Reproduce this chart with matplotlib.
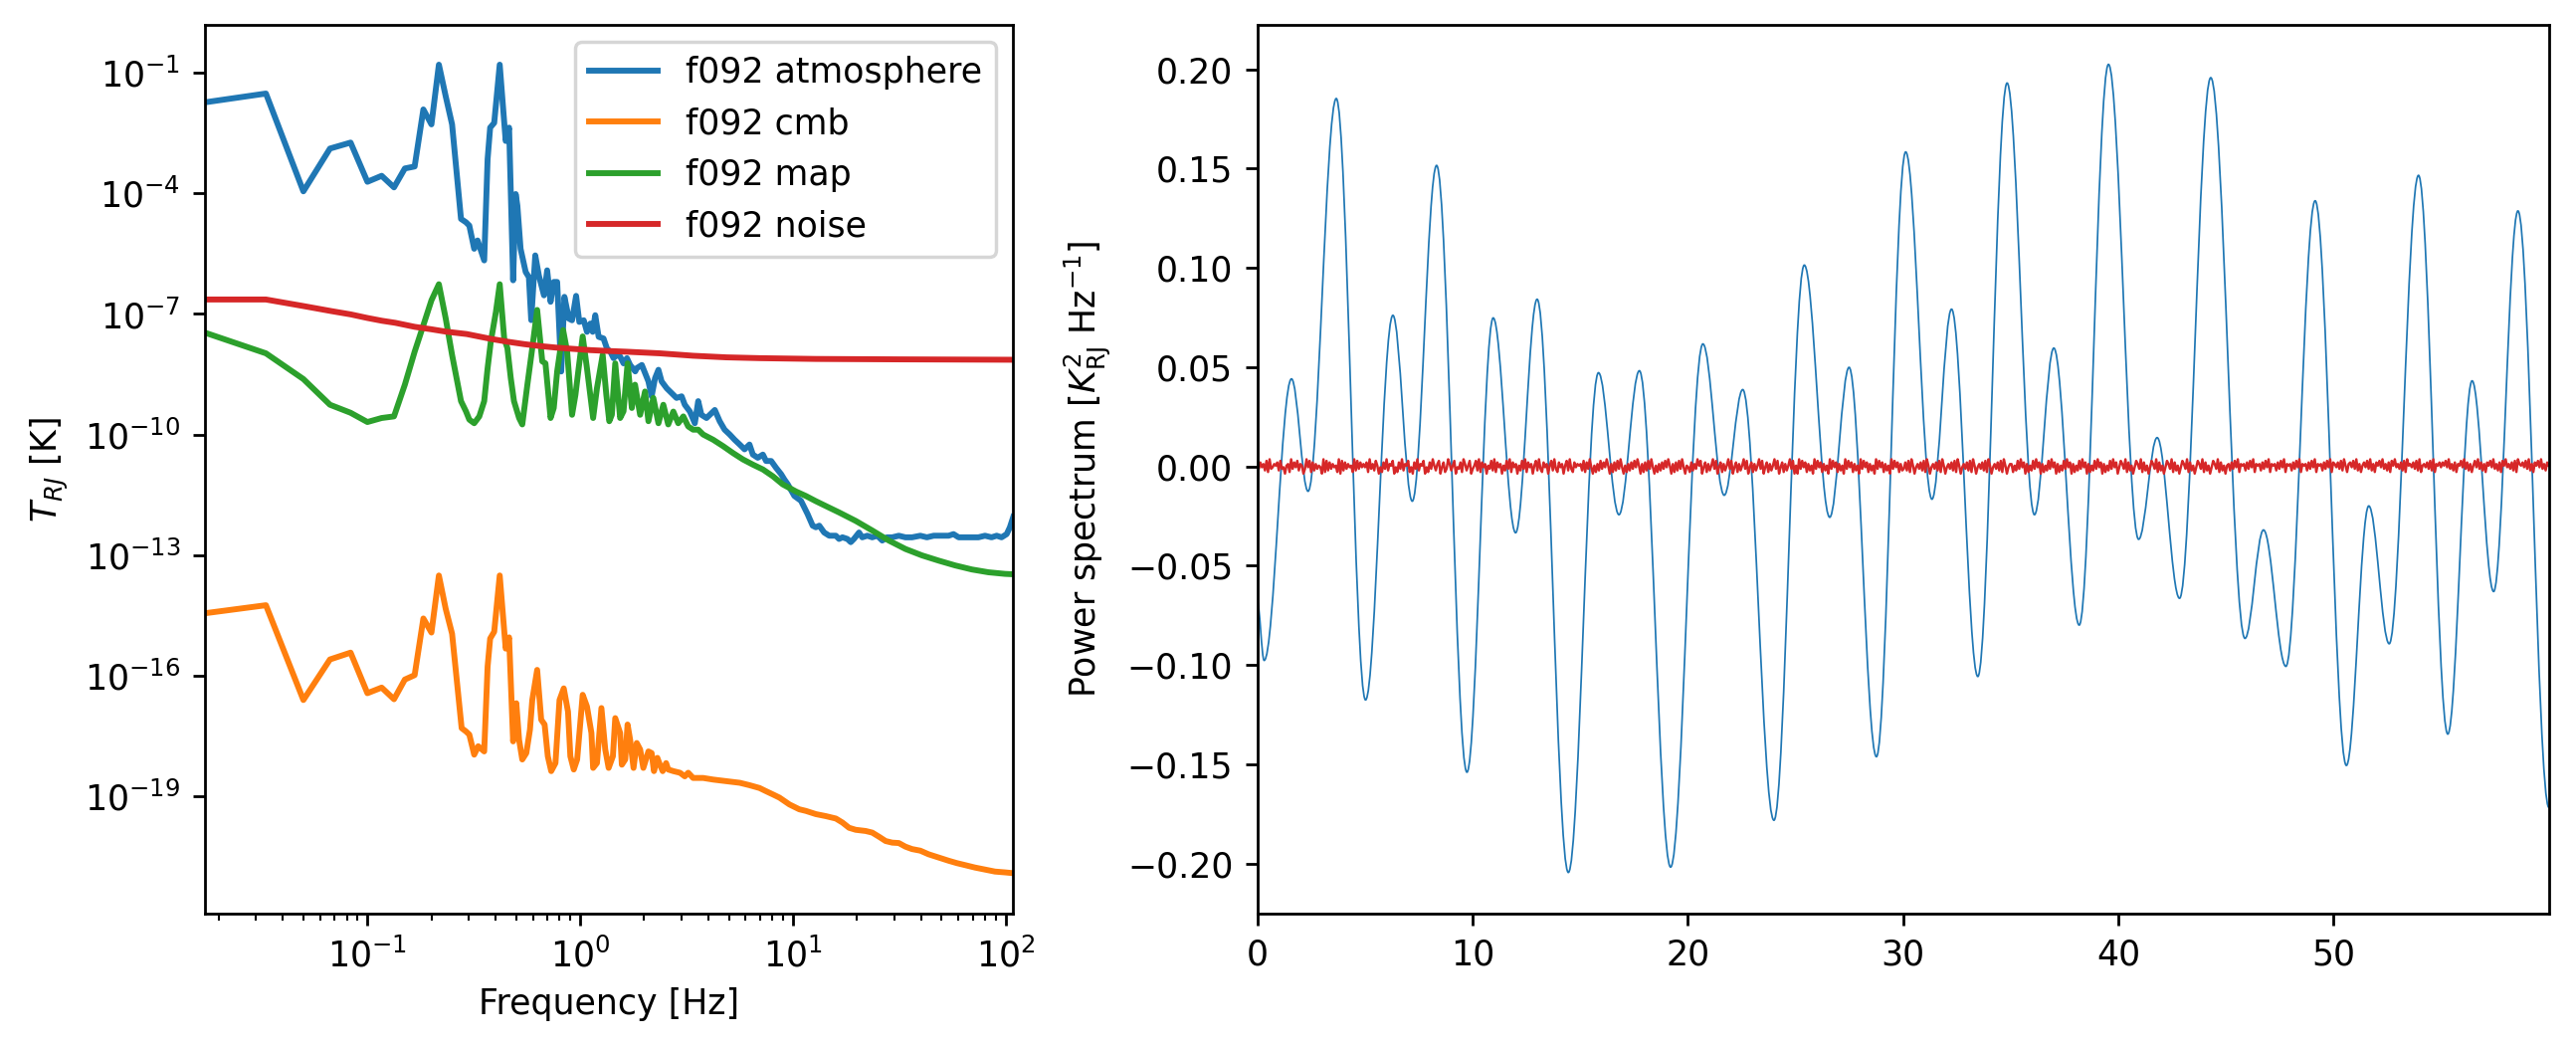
import numpy as np
import matplotlib
matplotlib.use('Agg')
import matplotlib.pyplot as plt
from matplotlib.path import Path
from matplotlib.patches import PathPatch
from matplotlib.ticker import NullLocator

# left panel: (log10 frequency [Hz], log10 T_RJ [K])
atm = np.array([
    (-1.778, -1.743), (-1.477, -1.513), (-1.301, -3.948), (-1.176, -2.883), (-1.079, -2.734),
    (-1.000, -3.710), (-0.933, -3.561), (-0.875, -3.849), (-0.824, -3.378), (-0.778, -3.329),
    (-0.737, -1.909), (-0.699, -2.281), (-0.664, -0.794), (-0.632, -1.580), (-0.602, -2.281),
    (-0.560, -4.634), (-0.537, -4.716), (-0.521, -4.800), (-0.498, -5.377), (-0.482, -5.171),
    (-0.451, -5.667), (-0.435, -3.148), (-0.423, -2.362), (-0.404, -2.243), (-0.378, -0.794),
    (-0.350, -2.694), (-0.334, -2.362), (-0.315, -6.162), (-0.303, -4.015), (-0.295, -4.304),
    (-0.280, -5.377), (-0.256, -5.955), (-0.241, -6.083), (-0.230, -7.153), (-0.211, -5.542),
    (-0.194, -6.042), (-0.170, -6.537), (-0.155, -5.914), (-0.139, -6.697), (-0.124, -6.203),
    (-0.108, -6.203), (-0.089, -8.432), (-0.074, -6.574), (-0.053, -7.116), (-0.038, -7.157),
    (-0.019, -6.549), (-0.004, -7.198), (0.017, -7.157), (0.032, -7.445), (0.048, -7.239),
    (0.059, -7.445), (0.071, -7.030), (0.087, -7.569), (0.110, -7.610), (0.126, -7.860),
    (0.142, -7.940), (0.157, -8.100), (0.173, -8.020), (0.188, -8.060), (0.204, -8.230),
    (0.220, -8.100), (0.235, -8.270), (0.259, -8.430), (0.266, -8.350), (0.290, -8.270),
    (0.321, -8.680), (0.336, -9.050), (0.352, -8.600), (0.368, -8.390), (0.383, -8.680),
    (0.407, -8.850), (0.430, -8.970), (0.453, -9.090), (0.477, -9.050), (0.492, -9.260),
    (0.516, -9.430), (0.539, -9.720), (0.555, -9.170), (0.570, -9.510), (0.594, -9.590),
    (0.617, -9.470), (0.633, -9.390), (0.656, -9.670), (0.679, -9.880), (0.703, -10.00),
    (0.726, -10.13), (0.750, -10.25), (0.773, -10.37), (0.796, -10.25), (0.812, -10.50),
    (0.835, -10.58), (0.859, -10.50), (0.874, -10.66), (0.898, -10.66), (0.921, -10.83),
    (0.945, -10.99), (0.960, -11.12), (0.976, -11.24), (1.007, -11.53), (1.038, -11.65),
    (1.069, -11.98), (1.093, -12.27), (1.108, -12.31), (1.124, -12.27), (1.147, -12.44),
    (1.171, -12.52), (1.202, -12.52), (1.217, -12.60), (1.233, -12.56), (1.256, -12.60),
    (1.272, -12.68), (1.287, -12.60), (1.311, -12.44), (1.326, -12.56), (1.350, -12.52),
    (1.373, -12.56), (1.397, -12.52), (1.420, -12.64), (1.443, -12.56), (1.467, -12.56),
    (1.498, -12.52), (1.529, -12.56), (1.560, -12.56), (1.599, -12.52), (1.630, -12.56),
    (1.662, -12.52), (1.693, -12.52), (1.732, -12.52), (1.755, -12.48), (1.779, -12.56),
    (1.802, -12.56), (1.841, -12.56), (1.872, -12.56), (1.903, -12.52), (1.934, -12.56),
    (1.958, -12.52), (1.981, -12.56), (2.005, -12.48), (2.020, -12.31), (2.036, -12.05),
])

cmb = np.array([
    (-1.778, -14.46), (-1.477, -14.25), (-1.301, -16.61), (-1.176, -15.60), (-1.079, -15.43),
    (-1.000, -16.44), (-0.933, -16.30), (-0.875, -16.59), (-0.824, -16.10), (-0.778, -15.99),
    (-0.737, -14.58), (-0.699, -14.93), (-0.664, -13.51), (-0.632, -14.34), (-0.602, -14.96),
    (-0.557, -17.31), (-0.537, -17.39), (-0.521, -17.47), (-0.498, -17.97), (-0.479, -17.76),
    (-0.451, -17.89), (-0.435, -15.78), (-0.423, -15.08), (-0.404, -14.91), (-0.378, -13.51),
    (-0.350, -15.33), (-0.334, -15.05), (-0.315, -17.64), (-0.300, -16.69), (-0.287, -17.60),
    (-0.272, -18.09), (-0.253, -17.93), (-0.236, -17.35), (-0.225, -16.61), (-0.202, -15.86),
    (-0.183, -17.10), (-0.167, -17.22), (-0.152, -18.01), (-0.136, -18.38), (-0.116, -18.18),
    (-0.097, -16.61), (-0.077, -16.32), (-0.057, -16.90), (-0.046, -18.01), (-0.030, -18.34),
    (-0.014, -18.09), (0.012, -16.48), (0.032, -16.77), (0.053, -17.43), (0.061, -18.30),
    (0.079, -18.18), (0.100, -16.81), (0.118, -17.84), (0.134, -18.30), (0.154, -18.01),
    (0.165, -17.06), (0.188, -17.43), (0.196, -18.22), (0.212, -18.09), (0.223, -17.22),
    (0.235, -17.60), (0.251, -18.30), (0.266, -17.68), (0.282, -17.84), (0.297, -18.30),
    (0.321, -17.89), (0.336, -17.93), (0.347, -18.38), (0.363, -18.05), (0.375, -18.22),
    (0.388, -18.38), (0.404, -18.18), (0.414, -18.34), (0.438, -18.38), (0.469, -18.42),
    (0.492, -18.51), (0.508, -18.42), (0.531, -18.55), (0.578, -18.55), (0.625, -18.59),
    (0.687, -18.63), (0.750, -18.67), (0.796, -18.73), (0.843, -18.80), (0.874, -18.88),
    (0.906, -18.96), (0.937, -19.04), (0.984, -19.21), (1.030, -19.33), (1.061, -19.37),
    (1.108, -19.45), (1.155, -19.50), (1.202, -19.56), (1.233, -19.66), (1.264, -19.79),
    (1.295, -19.84), (1.342, -19.87), (1.373, -19.91), (1.404, -20.01), (1.436, -20.12),
    (1.467, -20.16), (1.498, -20.17), (1.529, -20.26), (1.560, -20.32), (1.599, -20.36),
    (1.638, -20.45), (1.685, -20.53), (1.732, -20.61), (1.771, -20.67), (1.810, -20.72),
    (1.856, -20.78), (1.903, -20.83), (1.950, -20.88), (1.997, -20.90), (2.036, -20.92),
])

sky_map = np.array([
    (-1.778, -7.44), (-1.477, -7.98), (-1.301, -8.62), (-1.176, -9.26), (-1.079, -9.46),
    (-1.000, -9.69), (-0.933, -9.59), (-0.875, -9.55), (-0.824, -8.76), (-0.778, -7.94),
    (-0.737, -7.28), (-0.699, -6.66), (-0.664, -6.26), (-0.632, -7.11), (-0.602, -8.02),
    (-0.560, -9.17), (-0.537, -9.42), (-0.521, -9.63), (-0.498, -9.72), (-0.474, -9.55),
    (-0.451, -9.17), (-0.435, -8.35), (-0.420, -7.69), (-0.396, -6.95), (-0.378, -6.26),
    (-0.357, -7.61), (-0.342, -7.85), (-0.326, -8.60), (-0.311, -9.17), (-0.287, -9.59),
    (-0.272, -9.75), (-0.248, -8.76), (-0.225, -7.85), (-0.202, -6.90), (-0.178, -8.18),
    (-0.163, -8.23), (-0.139, -9.59), (-0.124, -9.34), (-0.108, -8.43), (-0.080, -7.40),
    (-0.061, -7.94), (-0.038, -9.51), (-0.022, -9.01), (-0.007, -8.35), (0.012, -7.56),
    (0.032, -8.35), (0.061, -9.59), (0.079, -8.85), (0.106, -8.02), (0.123, -9.01),
    (0.137, -9.67), (0.149, -9.51), (0.165, -8.23), (0.188, -9.59), (0.204, -9.42),
    (0.223, -8.23), (0.243, -9.34), (0.258, -8.76), (0.282, -9.51), (0.305, -8.93),
    (0.321, -9.67), (0.344, -9.09), (0.368, -9.72), (0.391, -9.26), (0.414, -9.75),
    (0.438, -9.43), (0.461, -9.72), (0.485, -9.55), (0.508, -9.80), (0.531, -9.88),
    (0.555, -9.88), (0.578, -10.00), (0.625, -10.13), (0.672, -10.29), (0.718, -10.46),
    (0.765, -10.62), (0.812, -10.75), (0.859, -10.87), (0.906, -11.04), (0.952, -11.24),
    (1.015, -11.42), (1.061, -11.53), (1.108, -11.66), (1.139, -11.74), (1.217, -11.94),
    (1.295, -12.15), (1.373, -12.39), (1.451, -12.64), (1.529, -12.85), (1.607, -13.01),
    (1.685, -13.14), (1.763, -13.26), (1.841, -13.36), (1.919, -13.43), (1.997, -13.47),
    (2.036, -13.48),
])

noise = np.array([
    (-1.778, -6.64), (-1.477, -6.64), (-1.304, -6.80), (-1.168, -6.93), (-1.079, -7.01),
    (-1.000, -7.10), (-0.931, -7.17), (-0.869, -7.22), (-0.778, -7.32), (-0.701, -7.38),
    (-0.631, -7.44), (-0.533, -7.50), (-0.420, -7.62), (-0.342, -7.69), (-0.264, -7.75),
    (-0.186, -7.80), (-0.108, -7.84), (-0.030, -7.87), (0.048, -7.90), (0.126, -7.92),
    (0.219, -7.94), (0.375, -7.98), (0.531, -8.04), (0.687, -8.08), (0.843, -8.10),
    (1.108, -8.12), (1.500, -8.13), (2.036, -8.14),
])

series = [("f092 atmosphere", atm), ("f092 cmb", cmb), ("f092 map", sky_map), ("f092 noise", noise)]

# right panel: turning points of the blue trace (time [s], value)
blue_t = [0.00, 0.32, 1.59, 2.36, 3.67, 5.03, 6.30, 7.20, 8.33, 9.74, 10.96, 12.00, 13.00,
          14.45, 15.85, 16.80, 17.75, 19.20, 20.70, 21.69, 22.55, 24.00, 25.41, 26.59, 27.49,
          28.76, 30.12, 31.34, 32.25, 33.47, 34.83, 36.10, 37.00, 38.18, 39.54, 40.94, 41.80,
          42.84, 44.29, 45.88, 46.74, 47.78, 49.14, 50.59, 51.63, 52.58, 53.94, 55.30, 56.43,
          57.43, 58.56, 60.00]
blue_v = [-0.068, -0.0977, 0.0441, -0.0125, 0.1853, -0.1176, 0.0761, -0.0175, 0.1516, -0.154,
          0.0748, -0.0334, 0.0842, -0.2045, 0.0472, -0.0243, 0.0482, -0.2018, 0.0617, -0.0145,
          0.0387, -0.1782, 0.1014, -0.0256, 0.0499, -0.1462, 0.1584, -0.0165, 0.0792, -0.1058,
          0.1931, -0.0243, 0.0596, -0.0799, 0.2025, -0.0367, 0.0145, -0.0664, 0.1958, -0.0866,
          -0.0320, -0.1007, 0.1338, -0.1506, -0.0199, -0.0893, 0.1466, -0.1348, 0.0431, -0.0630,
          0.1287, -0.1718]

# red trace: small wiggle around zero, one digit per sample
red_digits = (
    "5374628193465728340561937482650394817263540918273645190827364519283746"
    "4719362850417392658041739265814073926580417395268047139625804371962580"
    "3582917460538291746052839174605283917460582931746058293174605829317465"
    "6281739405162837495061728394051627384950617283940516273849506172839405"
    "4172639580471625938047162593804716259380471625938047162593804716259380"
    "5093847162509384716250938471625093847162509384716250938471625093847162"
    "3728195046372819504637281950463728195046372819504637281950463728195046"
    "6152839470615283947061528394706152839470615283947061528394706152839470"
    "4863917250486391725048639172504863917250486391725048639172504863917250"
    "5627384916562738491656273849165627384916562738491656273849165627384917"
    "6473829516748392615748392617584936271859463728195647382915647382916574"
    "7584936271658493726158493726175849362718594637281965748392617584936275"
)
red_v = (np.array([int(c) for c in red_digits]) - 4.5) * 0.0008

fig = plt.figure(figsize=(10.356, 4.212))
ax1 = fig.add_axes([0.07945, 0.12849, 0.31387, 0.84777])
ax2 = fig.add_axes([0.48807, 0.12849, 0.50135, 0.84777])

for name, d in series:
    ax1.plot(10 ** d[:, 0], 10 ** d[:, 1], lw=1.7, label=name)
ax1.set_xscale('log')
ax1.set_yscale('log')
ax1.set_xlim(10 ** -1.765, 10 ** 2.0356)
ax1.set_ylim(10 ** -21.92, 10 ** 0.196)
ax1.set_yticks([10.0 ** e for e in range(-1, -20, -3)])
ax1.yaxis.set_minor_locator(NullLocator())
ax1.set_xlabel('Frequency [Hz]')
ax1.set_ylabel('$T_{RJ}$ [K]')
ax1.legend(loc='upper right')

# smooth blue trace: cubic segments with flat tangents at each turning point
c = 0.3642
verts = [(blue_t[0], blue_v[0])]
codes = [Path.MOVETO]
for i in range(len(blue_t) - 1):
    h = blue_t[i + 1] - blue_t[i]
    verts += [(blue_t[i] + c * h, blue_v[i]), (blue_t[i + 1] - c * h, blue_v[i + 1]),
              (blue_t[i + 1], blue_v[i + 1])]
    codes += [Path.CURVE4] * 3
ax2.add_patch(PathPatch(Path(verts, codes), fill=False, edgecolor='C0', lw=0.5))

red_t = np.linspace(0, 59.99, len(red_v))
ax2.plot(red_t, red_v, color='C3', lw=0.7)
ax2.set_xlim(0, 59.99)
ax2.set_ylim(-0.2251, 0.2224)
ax2.set_ylabel('Power spectrum [$K_\\mathrm{RJ}^2$ Hz$^{-1}$]')

fig.savefig('out.png', dpi=250)
